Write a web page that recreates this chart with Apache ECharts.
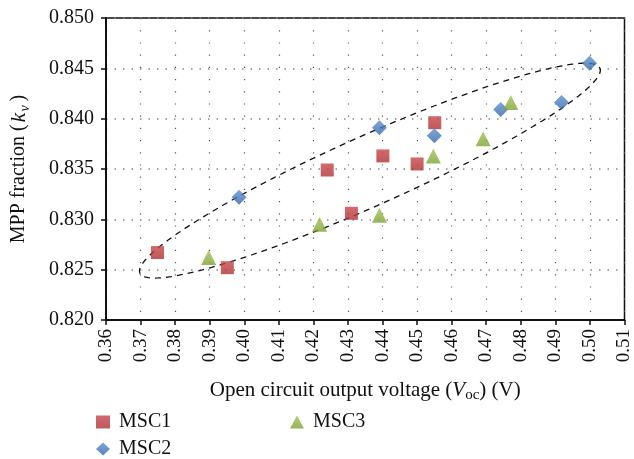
<!DOCTYPE html>
<html>
<head>
<meta charset="utf-8">
<script src="https://cdn.jsdelivr.net/npm/echarts@6/dist/echarts.min.js"></script>
<style>html,body{margin:0;padding:0;background:#fff;}#c{width:634px;height:459px;}</style>
</head>
<body>
<div id="c"></div>
<script>
// Data: [Voc (V), kv]
var msc1 = [[0.3749,0.8267],[0.3951,0.8252],[0.4240,0.8349],[0.4310,0.8306],[0.4401,0.8363],[0.4500,0.8355],[0.4551,0.8396]];
var msc2 = [[0.3985,0.8322],[0.4391,0.8391],[0.4550,0.8383],[0.4742,0.8409],[0.4918,0.8416],[0.4999,0.8455]];
var msc3 = [[0.3897,0.8262],[0.4218,0.8295],[0.4391,0.8304],[0.4547,0.8363],[0.4691,0.8380],[0.4771,0.8416]];
var seriesNames = ['MSC1','MSC2','MSC3'];
// Dashed ellipse annotation (data space): centre, half-major vector, half-minor vector
var ellipseCenter = [0.43635, 0.83484];
var ellipseMajor = [0.06656, 0.01019];
var ellipseMinor = [0.00404, -0.00318];

var ellipsePts = [];
for (var k = 0; k <= 200; k++) {
  var t = k / 200 * 2 * Math.PI;
  ellipsePts.push([
    ellipseCenter[0] + Math.cos(t) * ellipseMajor[0] + Math.sin(t) * ellipseMinor[0],
    ellipseCenter[1] + Math.cos(t) * ellipseMajor[1] + Math.sin(t) * ellipseMinor[1]
  ]);
}

var serif = '"Liberation Serif", "DejaVu Serif", serif';
var legendText = {fontSize: 20, fontFamily: serif, color: '#111', lineHeight: 22, padding: [0, 0, 0, 4]};
function legendAt(name, left, top) {
  return {data: [name], orient: 'horizontal', left: left, top: top, padding: 0,
    itemWidth: 14, itemHeight: 13, textStyle: legendText};
}
var chart = echarts.init(document.getElementById('c'), null, {renderer: 'canvas'});
chart.setOption({
  animation: false,
  textStyle: {fontFamily: serif, color: '#111'},
  grid: {left: 103, right: 7, top: 18, bottom: 139, show: true, borderColor: '#111', borderWidth: 1.5},
  xAxis: {
    type: 'value', min: 0.36, max: 0.51, interval: 0.01,
    axisLine: {show: true, lineStyle: {color: '#111', width: 2}},
    axisTick: {show: true, length: 5, inside: false, lineStyle: {color: '#111', width: 1.5}},
    axisLabel: {rotate: 90, fontSize: 19, color: '#111', fontFamily: serif, margin: 9,
      formatter: function (v) { return v.toFixed(2); }},
    splitLine: {show: true, lineStyle: {color: '#555', width: 1.2, type: [1.2, 11]}},
    name: '{n|Open circuit output voltage (}{i|V}{s|oc}{n|) (V)}',
    nameLocation: 'middle', nameGap: 57,
    nameTextStyle: {rich: {
      n: {fontSize: 21, fontFamily: serif, color: '#111', lineHeight: 26},
      i: {fontSize: 21, fontFamily: serif, fontStyle: 'italic', color: '#111', lineHeight: 26},
      s: {fontSize: 15, fontFamily: serif, color: '#111', verticalAlign: 'bottom', lineHeight: 15}
    }}
  },
  yAxis: {
    type: 'value', min: 0.82, max: 0.85, interval: 0.005,
    axisLine: {show: true, lineStyle: {color: '#111', width: 2}},
    axisTick: {show: true, length: 5, inside: false, lineStyle: {color: '#111', width: 1.5}},
    axisLabel: {fontSize: 20, color: '#111', fontFamily: serif, margin: 12,
      formatter: function (v) { return v.toFixed(3); }},
    splitLine: {show: true, lineStyle: {color: '#888', width: 1.5, type: [1.5, 7]}},
    name: '{n|MPP fraction (}{i|k}{s|v}{n|)}',
    nameLocation: 'middle', nameGap: 74,
    nameTextStyle: {rich: {
      n: {fontSize: 20, fontFamily: serif, color: '#111', lineHeight: 26},
      i: {fontSize: 22, fontFamily: serif, fontStyle: 'italic', color: '#111', lineHeight: 26, padding: [0, 1, 0, 2]},
      s: {fontSize: 14, fontFamily: serif, fontStyle: 'italic', color: '#111', verticalAlign: 'bottom', lineHeight: 15, padding: [0, 4, 0, 0]}
    }}
  },
  legend: [
    legendAt(seriesNames[0], 96, 411),
    legendAt(seriesNames[1], 96, 438),
    legendAt(seriesNames[2], 290, 411)
  ],
  series: [
    {name: 'ellipse', type: 'line', data: ellipsePts, showSymbol: false, symbol: 'none', silent: true,
      lineStyle: {color: '#111', width: 1.3, type: [6, 5]}, z: 1},
    {name: seriesNames[0], type: 'scatter', data: msc1, symbol: 'rect', symbolSize: 13, z: 3,
      itemStyle: {color: {type: 'linear', x: 0, y: 0, x2: 0, y2: 1, colorStops: [{offset: 0, color: '#C8444A'}, {offset: 1, color: '#AE2F30'}]}}},
    {name: seriesNames[1], type: 'scatter', data: msc2, symbol: 'diamond', symbolSize: 15, z: 3,
      itemStyle: {color: {type: 'linear', x: 0, y: 0, x2: 0, y2: 1, colorStops: [{offset: 0, color: '#5A8ED0'}, {offset: 1, color: '#3566A8'}]}}},
    {name: seriesNames[2], type: 'scatter', data: msc3, symbol: 'triangle', symbolSize: 15, z: 3,
      itemStyle: {color: {type: 'linear', x: 0, y: 0, x2: 0, y2: 1, colorStops: [{offset: 0, color: '#A0C452'}, {offset: 1, color: '#7DA232'}]}}}
  ]
});
</script>
</body>
</html>
